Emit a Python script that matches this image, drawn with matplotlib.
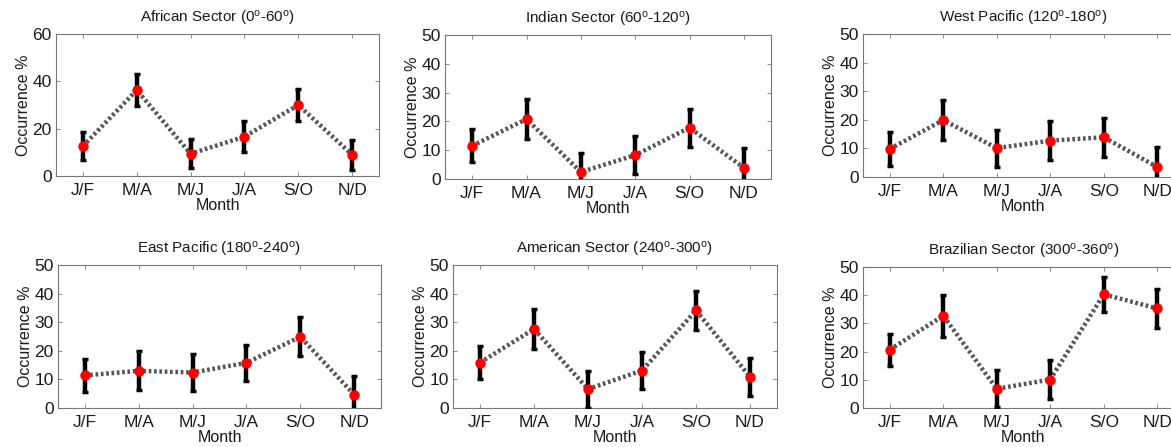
import numpy as np
import matplotlib
matplotlib.use("Agg")
import matplotlib.pyplot as plt

plt.rcParams['font.family'] = ['Liberation Sans', 'DejaVu Sans']
plt.rcParams['mathtext.fontset'] = 'custom'
plt.rcParams['mathtext.rm'] = 'Liberation Sans'
plt.rcParams['mathtext.it'] = 'Liberation Sans'

months = ['J/F', 'M/A', 'M/J', 'J/A', 'S/O', 'N/D']

titles = [
    r'African Sector (0$^{\mathrm{o}}$-60$^{\mathrm{o}}$)',
    r'Indian Sector (60$^{\mathrm{o}}$-120$^{\mathrm{o}}$)',
    r'West Pacific (120$^{\mathrm{o}}$-180$^{\mathrm{o}}$)',
    r'East Pacific (180$^{\mathrm{o}}$-240$^{\mathrm{o}}$)',
    r'American Sector (240$^{\mathrm{o}}$-300$^{\mathrm{o}}$)',
    r'Brazilian Sector (300$^{\mathrm{o}}$-360$^{\mathrm{o}}$)',
]

african = [12.6, 36.3, 9.4, 16.6, 30.0, 9.0]
african_err = [5.8, 6.8, 6.1, 6.5, 6.6, 6.3]
indian = [11.5, 20.8, 2.4, 8.3, 17.8, 3.9]
indian_err = [5.7, 7.0, 6.6, 6.6, 6.6, 7.0]
west_pac = [9.8, 19.9, 10.1, 12.7, 13.9, 3.5]
west_pac_err = [6.0, 7.1, 6.5, 6.8, 6.8, 7.0]
east_pac = [11.4, 13.0, 12.4, 15.8, 24.9, 4.7]
east_pac_err = [5.8, 6.8, 6.6, 6.4, 6.8, 6.5]
american = [15.9, 27.6, 6.6, 13.1, 34.1, 10.9]
american_err = [5.9, 7.0, 6.5, 6.6, 6.7, 6.7]
brazilian = [20.7, 32.7, 6.8, 10.1, 40.3, 35.3]
brazilian_err = [5.7, 7.5, 6.5, 6.8, 6.1, 7.0]

series = [(african, african_err), (indian, indian_err), (west_pac, west_pac_err),
          (east_pac, east_pac_err), (american, american_err), (brazilian, brazilian_err)]
ymaxes = [60, 50, 50, 50, 50, 50]

W, H = 1171, 447
# pixel boxes: left, right, top, bottom
boxes = [(56, 379, 34, 176), (445, 771, 35, 179), (863, 1184, 34, 177),
         (58, 381, 265, 408), (453, 777, 265, 408), (863, 1184, 267, 408)]

fig = plt.figure(figsize=(W / 100, H / 100), dpi=100)
txt = '#1a1a1a'
x = np.arange(1, 7)

for i in range(6):
    l, r, t, b = boxes[i]
    ax = fig.add_axes([l / W, (H - b) / H, (r - l) / W, (b - t) / H])
    y, e = series[i]
    ax.plot(x, y, linestyle=(0, (0.6, 0.6)), color='#555555', lw=3.2, zorder=2)
    ax.errorbar(x, y, yerr=e, fmt='none', ecolor='black', elinewidth=3.2,
                capsize=2.5, capthick=2.5, zorder=3)
    ax.plot(x, y, 'o', color='#ff0000', markersize=7.5, markeredgewidth=0, zorder=4)
    ax.set_xlim(0.5, 6.5)
    ax.set_ylim(0, ymaxes[i])
    ax.set_xticks(x)
    ax.set_xticklabels(months)
    ax.set_yticks(np.arange(0, ymaxes[i] + 1, 20 if ymaxes[i] == 60 else 10))
    ax.tick_params(direction='in', top=True, right=True, length=3, width=0.6,
                   colors='#777777', labelcolor=txt, labelsize=12.5, pad=3)
    ax.tick_params(axis='x', pad=5)
    for s in ax.spines.values():
        s.set_color('#777777')
        s.set_linewidth(0.8)
    ax.set_xlabel('Month', fontsize=11.5, color=txt, labelpad=0)
    ax.set_ylabel('Occurrence %', fontsize=11.5, color=txt, labelpad=1)
    ax.set_title(titles[i], fontsize=11, color=txt, pad=8)

fig.savefig('out.png', dpi=100)
